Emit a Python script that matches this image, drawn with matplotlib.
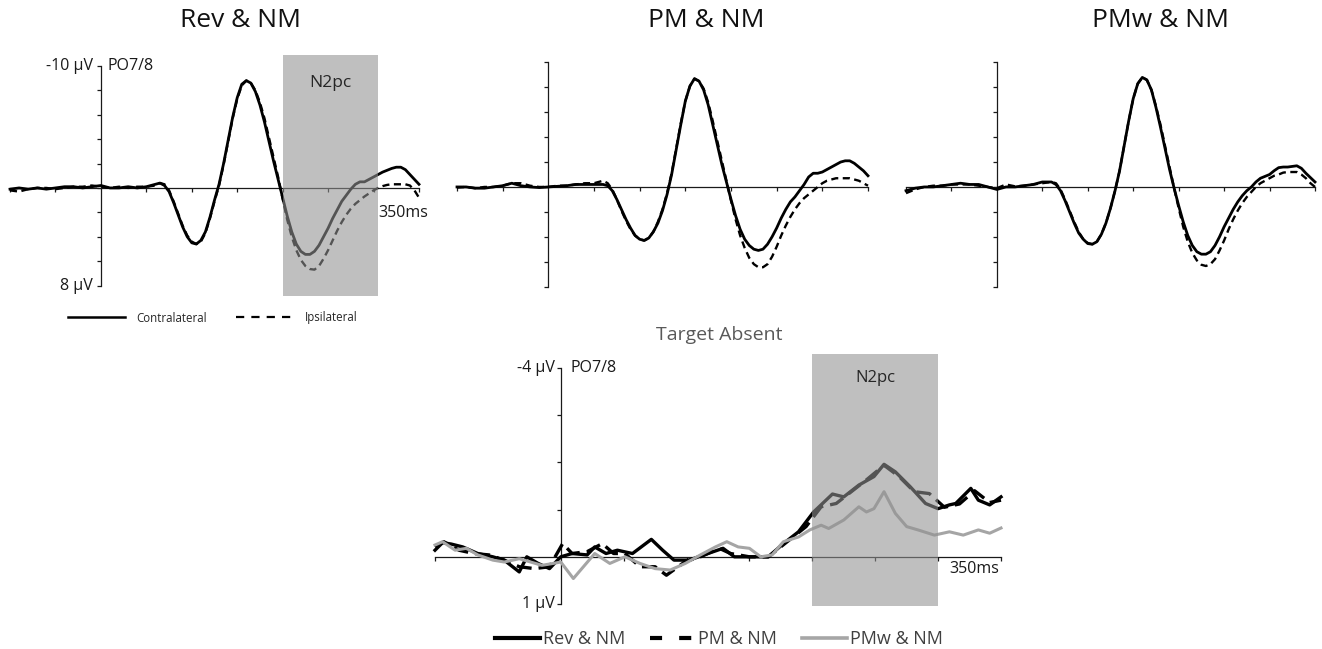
import matplotlib
matplotlib.use('Agg')
import matplotlib.pyplot as plt
from matplotlib.lines import Line2D

plt.rcParams['font.family'] = ['Open Sans', 'DejaVu Sans']

# ---------------- data ----------------
titles = ["Rev & NM", "PM & NM", "PMw & NM"]

t_top = [-100, -90, -80, -70, -60, -50, -40, -30, -20, -10, 0, 10, 20, 30, 40, 50,
         60, 65, 70, 75, 80, 85, 90, 95, 100, 105, 110, 115, 120, 125, 130,
         135, 140, 145, 150, 155, 160, 165, 170, 175, 180, 185, 190, 195, 200,
         205, 210, 215, 220, 225, 230, 235, 240, 245, 250, 255, 260, 265, 270,
         275, 280, 285, 290, 295, 300, 305, 310, 315, 320, 325, 330, 335, 340, 345, 350]

rev_contra = [0.1, 0.0, 0.1, 0.0, 0.1, 0.0, -0.1, -0.1, 0.0, -0.1, -0.2, 0.0, 0.0, -0.1, 0.0, -0.1,
              -0.3, -0.4, -0.2, 0.3, 1.2, 2.2, 3.2, 4.0, 4.5, 4.6, 4.3, 3.6, 2.4, 1.0, -0.3,
              -2.0, -3.9, -5.8, -7.4, -8.5, -8.8, -8.6, -7.9, -6.8, -5.4, -3.8, -2.2, -0.7, 0.8,
              2.3, 3.6, 4.6, 5.2, 5.45, 5.45, 5.2, 4.7, 4.0, 3.3, 2.5, 1.8, 1.1, 0.6,
              0.1, -0.3, -0.5, -0.5, -0.7, -0.9, -1.1, -1.3, -1.45, -1.6, -1.7, -1.7, -1.5, -1.1, -0.7, -0.3]
rev_ipsi = [0.2, 0.3, 0.1, 0.0, 0.0, 0.1, 0.0, -0.1, -0.1, -0.2, -0.1, 0.0, -0.1, 0.0, -0.1, -0.1,
            -0.2, -0.4, -0.3, 0.2, 1.1, 2.1, 3.1, 3.9, 4.4, 4.6, 4.4, 3.7, 2.5, 1.1, -0.2,
            -1.9, -3.8, -5.7, -7.3, -8.4, -8.8, -8.6, -8.0, -7.0, -5.7, -4.1, -2.5, -0.9, 0.9,
            2.6, 4.0, 5.1, 5.9, 6.4, 6.65, 6.7, 6.4, 5.8, 5.1, 4.3, 3.5, 2.8, 2.2,
            1.7, 1.3, 1.0, 0.7, 0.45, 0.2, 0.0, -0.15, -0.25, -0.3, -0.3, -0.3, -0.3, -0.2, 0.2, 0.8]
pm_contra = [0.0, 0.0, 0.1, 0.1, 0.0, -0.1, -0.3, -0.1, 0.0, 0.05, 0.0, -0.05, -0.1, -0.2, -0.2, -0.2,
             -0.2, -0.1, 0.3, 1.0, 1.8, 2.6, 3.3, 3.9, 4.2, 4.3, 4.1, 3.6, 2.9, 1.9, 0.6,
             -1.0, -3.0, -5.0, -6.9, -8.1, -8.7, -8.5, -7.8, -6.6, -5.0, -3.4, -1.8, -0.4, 1.0,
             2.3, 3.4, 4.2, 4.7, 5.0, 5.1, 5.0, 4.6, 4.0, 3.3, 2.5, 1.8, 1.2, 0.8,
             0.3, -0.2, -0.8, -1.1, -1.1, -1.2, -1.4, -1.6, -1.8, -2.0, -2.1, -2.1, -1.9, -1.6, -1.3, -0.9]
pm_ipsi = [0.05, 0.0, 0.1, 0.0, 0.0, -0.1, -0.3, -0.3, -0.1, 0.0, 0.0, -0.1, -0.1, -0.2, -0.3, -0.3,
           -0.5, -0.3, 0.2, 1.0, 1.9, 2.7, 3.4, 3.9, 4.2, 4.3, 4.1, 3.6, 2.8, 1.8, 0.5,
           -1.1, -3.1, -5.1, -6.9, -8.1, -8.7, -8.5, -7.9, -6.8, -5.3, -3.7, -2.1, -0.5, 1.1,
           2.6, 3.9, 4.9, 5.7, 6.2, 6.45, 6.45, 6.2, 5.6, 4.8, 3.9, 3.1, 2.4, 1.8,
           1.3, 0.9, 0.6, 0.3, 0.0, -0.3, -0.5, -0.6, -0.7, -0.7, -0.7, -0.7, -0.6, -0.5, -0.3, -0.1]
pmw_contra = [0.3, 0.1, 0.0, 0.0, -0.1, -0.2, -0.3, -0.2, -0.2, 0.0, 0.2, 0.0, 0.0, -0.1, -0.2, -0.4,
              -0.4, -0.2, 0.3, 1.1, 2.0, 2.9, 3.7, 4.2, 4.55, 4.6, 4.4, 3.8, 2.9, 1.7, 0.3,
              -1.3, -3.3, -5.3, -7.1, -8.3, -8.8, -8.6, -7.8, -6.4, -4.8, -3.1, -1.4, 0.1, 1.5,
              2.8, 3.9, 4.7, 5.2, 5.4, 5.4, 5.2, 4.7, 4.0, 3.2, 2.5, 1.8, 1.2, 0.7,
              0.3, 0.0, -0.4, -0.7, -0.85, -1.0, -1.3, -1.55, -1.6, -1.6, -1.65, -1.7, -1.5, -1.1, -0.75, -0.4]
pmw_ipsi = [0.5, 0.2, 0.0, -0.1, -0.1, -0.2, -0.2, -0.2, -0.1, 0.0, 0.1, -0.2, -0.05, -0.1, -0.2, -0.3,
            -0.4, -0.3, 0.2, 1.0, 1.9, 2.8, 3.6, 4.2, 4.5, 4.6, 4.4, 3.8, 2.9, 1.7, 0.3,
            -1.3, -3.3, -5.3, -7.1, -8.3, -8.8, -8.6, -7.8, -6.5, -5.0, -3.3, -1.6, 0.1, 1.7,
            3.2, 4.4, 5.3, 5.9, 6.25, 6.35, 6.2, 5.8, 5.1, 4.3, 3.4, 2.6, 1.9, 1.3,
            0.8, 0.4, 0.0, -0.3, -0.5, -0.7, -0.9, -1.0, -1.15, -1.2, -1.2, -1.2, -1.0, -0.7, -0.3, 0.0]

top_contra = [rev_contra, pm_contra, pmw_contra]
top_ipsi = [rev_ipsi, pm_ipsi, pmw_ipsi]

# Target absent (difference waves)
t_rev = [-100, -94, -87, -78, -66, -54, -45, -33, -27, -18, -9, 0, 9, 21, 27, 36, 45, 57, 72, 81,
         90, 102, 117, 129, 138, 150, 165, 177, 189, 201, 216, 225, 237, 249, 257, 266, 278, 290,
         300, 309, 314, 326, 332, 341, 350]
v_rev = [-0.14, -0.3, -0.27, -0.21, -0.07, 0, 0.07, 0.32, 0, 0.14, 0.25, 0, -0.07, -0.04, -0.21,
         -0.07, -0.14, -0.07, -0.37, -0.14, 0.07, 0.07, -0.07, -0.18, 0, 0, 0, -0.28, -0.53, -0.95,
         -1.33, -1.27, -1.52, -1.7, -1.96, -1.8, -1.48, -1.13, -1.02, -1.1, -1.13, -1.45, -1.2, -1.1, -1.27]
t_pm = [-100, -93, -81, -69, -57, -45, -33, -21, -9, 1.5, 9, 21, 33, 42, 51, 63, 75, 84, 99, 111,
        126, 135, 150, 165, 180, 195, 207, 219, 231, 243, 257, 269, 281, 293, 305, 317, 329, 341, 350]
v_pm = [-0.21, -0.32, -0.14, -0.07, -0.04, 0.07, 0.21, 0.25, 0.21, -0.28, -0.07, -0.11, -0.28,
        -0.07, -0.07, 0.21, 0.21, 0.39, 0.1, 0, -0.18, -0.07, 0, 0, -0.32, -0.64, -1.06, -1.13,
        -1.38, -1.63, -1.94, -1.7, -1.38, -1.34, -1.05, -1.12, -1.4, -1.15, -1.2]
t_pmw = [-100, -94, -84, -75, -66, -54, -45, -33, -24, -15, -6, 0, 10, 18, 27, 39, 51, 63, 75, 87,
         99, 111, 123, 132, 141, 150, 159, 168, 177, 189, 198, 207, 213, 225, 237, 243, 249, 257,
         266, 275, 284, 297, 309, 320, 332, 341, 350]
v_pmw = [-0.25, -0.32, -0.14, -0.18, -0.04, 0.07, 0.11, 0.04, 0.11, 0.18, 0.14, 0.11, 0.46, 0.21,
         -0.07, 0.14, 0, 0.14, 0.25, 0.28, 0.14, -0.04, -0.21, -0.32, -0.21, -0.18, 0, -0.04, -0.32,
         -0.42, -0.57, -0.67, -0.6, -0.78, -1.06, -0.95, -1.02, -1.38, -0.92, -0.64, -0.57, -0.46,
         -0.53, -0.46, -0.57, -0.5, -0.61]

bottom_labels = ["Rev & NM", "PM & NM", "PMw & NM"]
top_legend_labels = ["Contralateral", "Ipsilateral"]

top_yticks = [-10, -8, -6, -4, -2, 0, 2, 4, 6, 8]
bot_yticks = [-4, -3, -2, -1, 0, 1]
xticks = [-100, -50, 50, 100, 150, 200, 250, 300, 350]
n2pc_top = (200, 305)
n2pc_bot = (200, 300)

# ---------------- layout ----------------
W, H = 1322, 649
fig = plt.figure(figsize=(W / 100, H / 100), dpi=100)


def px_axes(l, r, t, b):
    return fig.add_axes([l / W, 1 - b / H, (r - l) / W, (b - t) / H])


AX = '#1a1a1a'
TXT = '#1a1a1a'


def style(ax, yticks, ylim):
    ax.set_xlim(-100, 350)
    ax.set_ylim(*ylim)
    ax.patch.set_visible(False)
    for s in ['top', 'right']:
        ax.spines[s].set_visible(False)
    for s in ['left', 'bottom']:
        ax.spines[s].set_position(('data', 0))
        ax.spines[s].set_color(AX)
        ax.spines[s].set_linewidth(0.9)
        ax.spines[s].set_zorder(2.5)
    ax.spines['left'].set_bounds(yticks[0], yticks[-1])
    ax.spines['bottom'].set_bounds(-100, 350)
    ax.set_yticks(yticks)
    ax.set_yticklabels([])
    ax.set_xticks(xticks)
    ax.set_xticklabels([])
    ax.tick_params(axis='both', direction='out', length=3.2, width=0.9, color=AX)


top_boxes = [(10, 419), (457, 868), (906, 1315)]
top_ylims = [(8.86, -10.9), (8.76, -10.6), (8.76, -10.6)]
title_x = [241, 706, 1160]
shade_col = '#929292'
shade_alpha = 0.58

axes_top = []
for i, (l, r) in enumerate(top_boxes):
    ax = px_axes(l, r, 55, 296)
    style(ax, top_yticks, top_ylims[i])
    ax.plot(t_top, top_contra[i], color='black', lw=2.0, zorder=3, clip_on=False,
            solid_joinstyle='round')
    ax.plot(t_top, top_ipsi[i], color='black', lw=1.7, ls=(0, (3.0, 1.9)), zorder=3,
            clip_on=False)
    fig.text(title_x[i] / W, 1 - 27 / H, titles[i], ha='center', va='baseline',
             fontsize=19, color='#111111')
    axes_top.append(ax)

ax1 = axes_top[0]
ax1.axvspan(*n2pc_top, color=shade_col, alpha=shade_alpha, lw=0, zorder=5)
ax1.text(sum(n2pc_top) / 2, -8.6, 'N2pc', ha='center', va='center', fontsize=12.5,
         color='#262626', zorder=6)
ax1.annotate('-10 \u03bcV', xy=(0, -10), xytext=(-6, 0), textcoords='offset points',
             ha='right', va='center', fontsize=11.5, color=TXT)
ax1.annotate('8 \u03bcV', xy=(0, 8), xytext=(-6, 0), textcoords='offset points',
             ha='right', va='center', fontsize=11.5, color=TXT)
ax1.annotate('PO7/8', xy=(0, -10), xytext=(5, 0), textcoords='offset points',
             ha='left', va='center', fontsize=11.5, color=TXT)
ax1.annotate('350ms', xy=(350, 0), xytext=(6.5, -18), textcoords='offset points',
             ha='right', va='center', fontsize=11.5, color=TXT, zorder=6)

h_top = [Line2D([], [], color='black', lw=1.8),
         Line2D([], [], color='black', lw=1.6, ls=(0, (3.7, 3.2)))]
ax1.legend(h_top, top_legend_labels, ncol=2, frameon=False, fontsize=8.3,
           handlelength=4.95, handletextpad=1.0, columnspacing=2.5,
           loc='center left', bbox_to_anchor=(68 / W, 1 - 318 / H),
           bbox_transform=fig.transFigure, borderpad=0, borderaxespad=0,
           labelcolor='#262626')

# bottom panel
axb = px_axes(435, 1001, 354, 606)
style(axb, bot_yticks, (1.042, -4.297))
axb.plot(t_rev, v_rev, color='black', lw=2.4, zorder=3, clip_on=False)
axb.plot(t_pm, v_pm, color='black', lw=2.4, ls=(0, (4.5, 2.1)), zorder=3, clip_on=False)
axb.plot(t_pmw, v_pmw, color='#a5a5a5', lw=2.2, zorder=3, clip_on=False)
axb.axvspan(*n2pc_bot, color=shade_col, alpha=shade_alpha, lw=0, zorder=5)
axb.text(sum(n2pc_bot) / 2, -3.79, 'N2pc', ha='center', va='center', fontsize=12,
         color='#262626', zorder=6)
axb.annotate('-4 \u03bcV', xy=(0, -4), xytext=(-4.5, 0), textcoords='offset points',
             ha='right', va='center', fontsize=11.5, color=TXT)
axb.annotate('1 \u03bcV', xy=(0, 1), xytext=(-4.5, 0), textcoords='offset points',
             ha='right', va='center', fontsize=11.5, color=TXT)
axb.annotate('PO7/8', xy=(0, -4), xytext=(7, 0), textcoords='offset points',
             ha='left', va='center', fontsize=11.5, color=TXT)
axb.annotate('350ms', xy=(350, 0), xytext=(-1.5, -8.6), textcoords='offset points',
             ha='right', va='center', fontsize=11.5, color=TXT, zorder=6)
fig.text(719 / W, 1 - 340 / H, 'Target Absent', ha='center', va='baseline',
         fontsize=14, color='#595959')

h_bot = [Line2D([], [], color='black', lw=3.0),
         Line2D([], [], color='black', lw=3.0, ls=(0, (2.9, 4.1))),
         Line2D([], [], color='#a6a6a6', lw=2.6)]
axb.legend(h_bot, bottom_labels, ncol=3, frameon=False, fontsize=13,
           handlelength=2.49, handletextpad=0.17, columnspacing=1.38,
           loc='center left', bbox_to_anchor=(495 / W, 1 - 639 / H),
           bbox_transform=fig.transFigure, borderpad=0, borderaxespad=0,
           labelcolor='#404040')

fig.savefig('out.png', dpi=100)
